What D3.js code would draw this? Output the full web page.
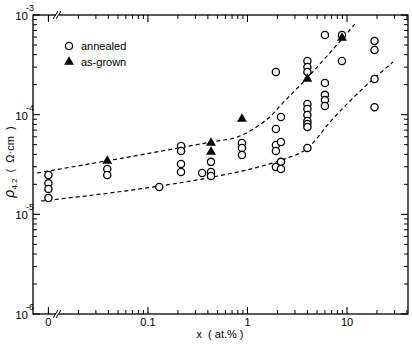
<!DOCTYPE html>
<html><head><meta charset="utf-8">
<script src="https://cdn.jsdelivr.net/npm/d3@7/dist/d3.min.js"></script>
<style>
html,body{margin:0;padding:0;background:#fff;}
svg{display:block;font-family:"Liberation Sans",Arial,Helvetica,sans-serif;}
</style></head>
<body>
<svg id="c" width="412" height="346"></svg>
<script>
// ---- data ----
const annealedX = [0,0,0,0, 0.039,0.039, 0.13, 0.215,0.215,0.215,0.215, 0.35, 0.43,0.43,0.43, 0.88,0.88,0.88,
  1.93,1.93,1.93,1.93,1.93, 2.17,2.17,2.17,2.17,
  4.0,4.0,4.0,4.0,4.0,4.0,4.0,4.0,4.0,4.0,
  6.0,6.0,6.0,6.0,6.0, 8.9,8.9, 18.9,18.9,18.9,18.9];
const annealedY = [2.48e-5,2.05e-5,1.8e-5,1.46e-5, 2.85e-5,2.48e-5, 1.88e-5, 4.85e-5,4.33e-5,3.2e-5,2.66e-5, 2.6e-5, 3.36e-5,2.66e-5,2.43e-5, 5.2e-5,4.64e-5,3.94e-5,
  2.68e-4,7.19e-5,4.97e-5,4.33e-5,2.99e-5, 9.48e-5,5.32e-5,3.36e-5,2.85e-5,
  3.46e-4,3.01e-4,2.68e-4,1.28e-4,1.14e-4,9.93e-5,8.65e-5,8.07e-5,7.53e-5,4.64e-5,
  6.3e-4,2.08e-4,1.58e-4,1.4e-4,1.22e-4, 6.3e-4,3.46e-4, 5.48e-4,4.46e-4,2.28e-4,1.19e-4];
const grownX = [0.039, 0.43, 0.43, 0.88, 4.0, 8.9];
const grownY = [3.43e-5, 5.2e-5, 4.23e-5, 9.06e-5, 2.28e-4, 5.9e-4];
const upperFitX = [0.0077, 0.083, 0.42, 0.84, 1.275, 1.68, 2.12, 4.06, 12.0];
const upperFitY = [2.6e-5, 3.94e-5, 5.3e-5, 6.1e-5, 7.7e-5, 9.5e-5, 1.22e-4, 2.39e-4, 8.1e-4];
const lowerFitX = [0.0084, 0.083, 0.45, 1.40, 2.38, 4.06, 6.75, 10.7, 29.0];
const lowerFitY = [1.36e-5, 1.80e-5, 2.37e-5, 3.05e-5, 3.6e-5, 4.64e-5, 8.45e-5, 1.37e-4, 3.38e-4];
const xTickVals = [0, 0.1, 1, 10];
const xTickLabels = ["0", "0.1", "1", "10"];
const yTickVals = [1e-3, 1e-4, 1e-5, 1e-6];
const yTickExps = ["-3", "-4", "-5", "-6"];
const legendLabels = ["annealed", "as-grown"];

// ---- layout ----
const L = 33, R = 408, T = 15, B = 314;
const ZERO_AT = 0.01; // x = 0 is drawn where 0.01 would be (broken axis)
const svg = d3.select("#c");
const x = d3.scaleLog().domain([0.007, 41]).range([L, R]);
const y = d3.scaleLog().domain([1e-6, 1e-3]).range([B, T]);
const xp = v => v === 0 ? x(ZERO_AT) : x(v);

const g = svg.append("g");

// frame
g.append("rect").attr("x", L).attr("y", T).attr("width", R - L).attr("height", B - T)
  .attr("fill", "none").attr("stroke", "#000").attr("stroke-width", 1.3);

// x ticks (bottom and top)
const xMinor = [];
[0.01, 0.1, 1, 10].forEach(d => { for (let k = 2; k <= 9; k++) { const v = d * k; if (v < 41) xMinor.push(v); } });
const xMinorDraw = xMinor.filter(v => v > 0.015);
[[B, -1], [T, 1]].forEach(([yy, dir]) => {
  xMinorDraw.forEach(v => g.append("line").attr("x1", x(v)).attr("x2", x(v))
    .attr("y1", yy).attr("y2", yy + dir * 4).attr("stroke", "#000").attr("stroke-width", 1));
  xTickVals.forEach(v => g.append("line").attr("x1", xp(v)).attr("x2", xp(v))
    .attr("y1", yy).attr("y2", yy + dir * 7).attr("stroke", "#000").attr("stroke-width", 1.1));
});
// axis break marks
[B, T].forEach(yy => {
  const bx = 57;
  g.append("rect").attr("x", bx - 1).attr("y", yy - 2).attr("width", 3).attr("height", 4).attr("fill", "#fff");
  [bx - 1.5, bx + 1.5].forEach(cx => g.append("path")
    .attr("d", `M${cx - 2},${yy + 4} C${cx - 2},${yy + 1} ${cx + 2},${yy - 1} ${cx + 2},${yy - 4}`)
    .attr("fill", "none").attr("stroke", "#000").attr("stroke-width", 1));
});
// x tick labels
xTickVals.forEach((v, i) => g.append("text").attr("x", xp(v)).attr("y", 326)
  .attr("text-anchor", "middle").attr("font-size", 11).text(xTickLabels[i]));
// x label
g.append("text").attr("x", 220).attr("y", 338).attr("text-anchor", "middle").attr("font-size", 11)
  .attr("xml:space", "preserve").text("x  ( at.% )");

// y ticks (left and right)
const yMinor = [];
[1e-6, 1e-5, 1e-4].forEach(d => { for (let k = 2; k <= 9; k++) yMinor.push(d * k); });
[[L, 1], [R, -1]].forEach(([xx, dir]) => {
  yMinor.forEach(v => g.append("line").attr("x1", xx).attr("x2", xx + dir * 4)
    .attr("y1", y(v)).attr("y2", y(v)).attr("stroke", "#000").attr("stroke-width", 1));
  yTickVals.forEach(v => g.append("line").attr("x1", xx).attr("x2", xx + dir * 7)
    .attr("y1", y(v)).attr("y2", y(v)).attr("stroke", "#000").attr("stroke-width", 1.1));
});
// y tick labels
yTickVals.forEach((v, i) => {
  g.append("text").attr("x", 28).attr("y", y(v) + 5).attr("text-anchor", "end").attr("font-size", 11.5).text("10");
  g.append("text").attr("x", 26).attr("y", y(v) - 4).attr("text-anchor", "start").attr("font-size", 9).text(yTickExps[i]);
});
// y label
const yl = g.append("text").attr("transform", "translate(14,162) rotate(-90)").attr("text-anchor", "middle");
yl.append("tspan").attr("font-size", 14).attr("font-style", "italic").text("ρ");
yl.append("tspan").attr("font-size", 8).attr("dy", 3).text("4.2");
yl.append("tspan").attr("font-size", 11).attr("dy", -3).attr("xml:space", "preserve").text("  (  Ω·cm  )");

// fit lines
const line = d3.line().x(d => x(d[0])).y(d => y(d[1])).curve(d3.curveMonotoneX);
[[upperFitX, upperFitY], [lowerFitX, lowerFitY]].forEach(([xs, ys]) => {
  g.append("path").attr("d", line(xs.map((v, i) => [v, ys[i]])))
    .attr("fill", "none").attr("stroke", "#000").attr("stroke-width", 1.2).attr("stroke-dasharray", "4,3");
});

// annealed circles
annealedX.forEach((v, i) => g.append("circle").attr("cx", xp(v)).attr("cy", y(annealedY[i])).attr("r", 3.6)
  .attr("fill", "#fff").attr("stroke", "#000").attr("stroke-width", 1.3));
// as-grown triangles
const tri = d3.symbol().type(d3.symbolTriangle).size(42);
grownX.forEach((v, i) => g.append("path").attr("d", tri())
  .attr("transform", `translate(${xp(v)},${y(grownY[i])})`).attr("fill", "#000"));

// legend
g.append("circle").attr("cx", 69).attr("cy", 46).attr("r", 3.6).attr("fill", "#fff").attr("stroke", "#000").attr("stroke-width", 1.3);
g.append("path").attr("d", tri()).attr("transform", "translate(69,62)").attr("fill", "#000");
legendLabels.forEach((t, i) => g.append("text").attr("x", 81).attr("y", 50 + i * 16).attr("font-size", 11).text(t));
</script>
</body></html>
